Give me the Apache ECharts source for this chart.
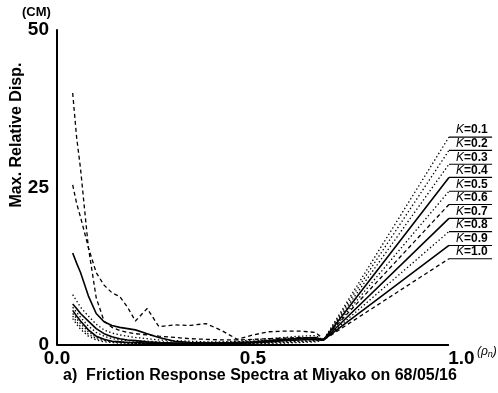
<!DOCTYPE html>
<html><head><meta charset="utf-8">
<script src="https://cdn.jsdelivr.net/npm/echarts@6/dist/echarts.min.js"></script>
<style>html,body{margin:0;padding:0;background:#fff}#c{width:498px;height:393px}</style>
</head><body><div id="c"></div>
<script>
const rho = [0.04,0.05,0.06,0.08,0.10,0.12,0.14,0.16,0.18,0.20,0.23,0.26,0.30,0.34,0.38,0.42,0.46,0.50,0.54,0.58,0.62,0.66,0.68,1.0];
const kLabels = ['K=0.1','K=0.2','K=0.3','K=0.4','K=0.5','K=0.6','K=0.7','K=0.8','K=0.9','K=1.0'];
const k01 = [4.2,3.3,2.5,1.4,0.8,0.5,0.4,0.3,0.3,0.2,0.2,0.2,0.2,0.2,0.2,0.2,0.2,0.2,0.3,0.3,0.4,0.5,0.8,33.0];
const k02 = [4.6,3.7,2.9,1.7,1.0,0.7,0.5,0.4,0.3,0.3,0.2,0.2,0.2,0.2,0.2,0.2,0.2,0.3,0.3,0.4,0.5,0.6,0.8,30.9];
const k03 = [5.0,4.2,3.4,2.1,1.2,0.8,0.6,0.5,0.4,0.3,0.3,0.3,0.3,0.2,0.2,0.2,0.3,0.3,0.4,0.5,0.6,0.7,0.8,28.7];
const k04 = [5.5,4.6,3.8,2.4,1.4,0.9,0.6,0.5,0.4,0.4,0.3,0.3,0.2,0.2,0.2,0.3,0.3,0.4,0.5,0.7,0.8,0.9,0.8,26.6];
const k05 = [6.0,5.2,4.4,3.0,2.0,1.4,1.0,0.8,0.7,0.6,0.6,0.5,0.5,0.4,0.4,0.4,0.5,0.6,0.8,1.0,1.1,1.0,0.8,24.4];
const k06 = [25.4,22.5,20.3,15.5,11.5,9.5,8.3,7.7,6.0,3.8,5.8,2.9,3.2,3.1,3.4,2.3,0.9,1.6,2.1,2.2,2.2,2.0,0.9,22.3];
const k07 = [14.6,13.0,11.5,7.8,5.0,3.7,3.1,2.8,2.6,2.4,1.8,1.2,0.6,0.4,0.3,0.3,0.3,0.4,0.6,0.8,1.1,1.2,0.8,20.1];
const k08 = [8.0,7.0,6.0,4.6,3.3,2.4,1.9,1.6,1.4,1.2,1.0,0.8,0.7,0.6,0.5,0.5,0.6,0.8,1.0,1.2,1.4,1.5,0.8,18.0];
const k09 = [6.5,5.8,5.0,3.8,2.6,1.8,1.3,1.0,0.8,0.7,0.5,0.4,0.3,0.3,0.3,0.3,0.4,0.5,0.7,0.9,1.0,0.9,0.8,15.8];
const k10 = [40.0,33.0,28.0,15.5,7.5,3.8,2.8,2.3,2.0,1.8,1.6,1.4,1.2,1.0,0.9,0.8,0.8,0.9,1.0,1.1,1.2,1.1,0.8,13.7];
const yTicks = [0, 25, 50];
const xTicks = [0, 0.5, 1.0];

const allK = [k01,k02,k03,k04,k05,k06,k07,k08,k09,k10];
const dotted = [1.4, 2.4], dashed = [4, 3];
const styles = [dotted, dotted, dotted, 'solid', dotted, dashed, 'solid', dotted, 'solid', dashed];
const widths = [1.3,1.3,1.3,1.6,1.3,1.3,1.6,1.3,1.6,1.3];
const FONT = 'Liberation Sans, Arial, sans-serif';
const xEnd = xTicks[xTicks.length - 1];
const ulEnd = 1.11;

const series = [];
allK.forEach((arr, i) => {
  series.push({
    name: kLabels[i], type: 'line', data: rho.map((x, j) => [x, arr[j]]),
    showSymbol: false, smooth: false, clip: false,
    lineStyle: { color: '#000', width: widths[i], type: styles[i] }
  });
});
// baseline (x axis line) ending at rho = 1.0
series[0].markLine = {
  silent: true, symbol: 'none', label: { show: false },
  lineStyle: { color: '#000', width: 2, type: 'solid' },
  data: [[{ coord: [0, 0] }, { coord: [xEnd, 0] }]]
};
allK.forEach((arr, i) => {
  const end = arr[arr.length - 1];
  series.push({
    name: kLabels[i] + ' label', type: 'line', clip: false,
    data: [[rho[rho.length - 1], end], [ulEnd, end]],
    showSymbol: false,
    lineStyle: { color: '#000', width: 1.1 },
    endLabel: {
      show: true, distance: 0, offset: [-36, -7],
      formatter: '{k|K}{v|' + kLabels[i].slice(1) + '}',
      rich: {
        k: { fontFamily: FONT, fontSize: 12, fontStyle: 'italic', color: '#000' },
        v: { fontFamily: FONT, fontSize: 12, fontWeight: 'bold', color: '#000' }
      }
    }
  });
});

const chart = echarts.init(document.getElementById('c'), null, { renderer: 'canvas' });
chart.setOption({
  animation: false,
  backgroundColor: '#fff',
  grid: { left: 57, right: 2, top: 30, bottom: 48, outerBoundsMode: 'none', containLabel: false },
  xAxis: {
    type: 'value', min: 0, max: 1.12, interval: 0.5,
    axisLine: { show: false },
    axisTick: { show: false }, splitLine: { show: false },
    axisLabel: {
      margin: 4, color: '#000', fontFamily: FONT, fontSize: 19, fontWeight: 'bold',
      customValues: xTicks,
      formatter: v => v === 1 ? '{r|1.0}' : v.toFixed(1),
      rich: { r: { fontFamily: FONT, fontSize: 19, fontWeight: 'bold', color: '#000', padding: [0, 0, 0, 25] } }
    }
  },
  yAxis: {
    type: 'value', min: 0, max: 50, interval: 25,
    axisLine: { show: true, lineStyle: { color: '#000', width: 2 } },
    axisTick: { show: false }, splitLine: { show: false },
    axisLabel: { margin: 8, color: '#000', fontFamily: FONT, fontSize: 19, fontWeight: 'bold', customValues: yTicks }
  },
  graphic: [
    { type: 'text', left: 22, top: 6, style: { text: '(CM)', fontFamily: FONT, fontSize: 13, fontWeight: 'bold', fill: '#000' } },
    { type: 'text', x: 17, y: 135, rotation: Math.PI / 2, style: { text: 'Max. Relative Disp.', fontFamily: FONT, fontSize: 16, fontWeight: 'bold', fill: '#000', align: 'center', verticalAlign: 'middle' } },
    { type: 'text', left: 63, top: 368, style: { text: 'a)  Friction Response Spectra at Miyako on 68/05/16', fontFamily: FONT, fontSize: 16, fontWeight: 'bold', fill: '#000' } },
    { type: 'text', left: 477, top: 346, style: { text: '(ρ{s|n})', fontFamily: FONT, fontSize: 12, fontStyle: 'italic', fill: '#000',
      rich: { s: { fontFamily: FONT, fontSize: 9, fontStyle: 'italic', fill: '#000', padding: [5, 0, 0, 0] } } } }
  ],
  series: series
});
</script></body></html>
